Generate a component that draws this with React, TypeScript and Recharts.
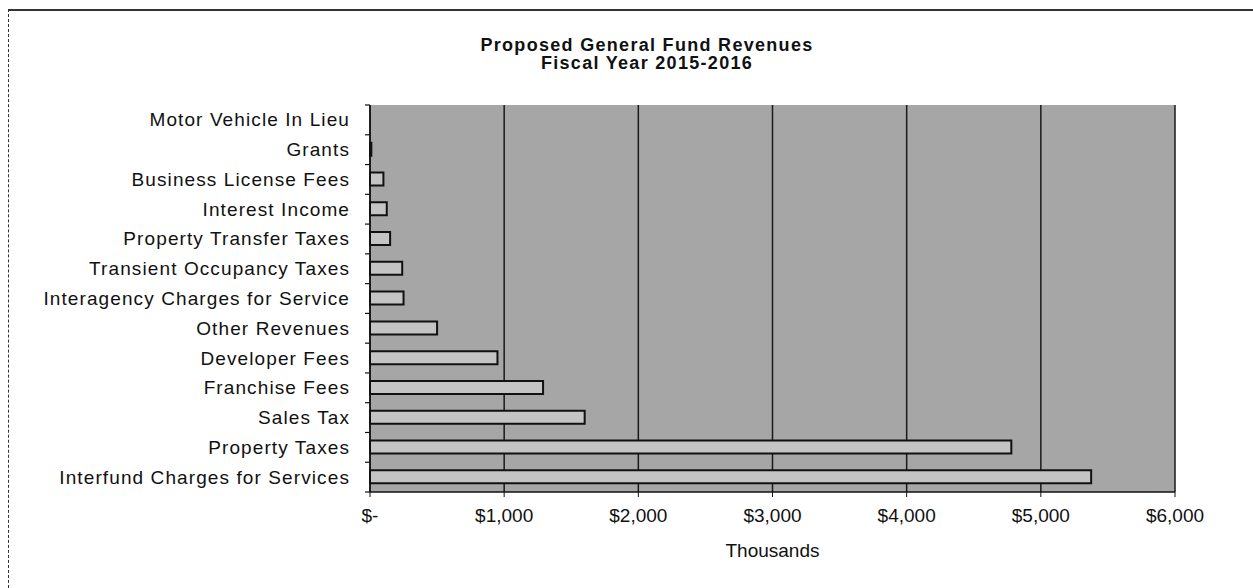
import React from 'react';
import { BarChart, Bar, XAxis, YAxis, CartesianGrid } from 'recharts';

const categories: string[] = [
  'Motor Vehicle In Lieu',
  'Grants',
  'Business License Fees',
  'Interest Income',
  'Property Transfer Taxes',
  'Transient Occupancy Taxes',
  'Interagency Charges for Service',
  'Other Revenues',
  'Developer Fees',
  'Franchise Fees',
  'Sales Tax',
  'Property Taxes',
  'Interfund Charges for Services',
];

const revenues: number[] = [0, 10, 100, 125, 150, 240, 250, 500, 950, 1290, 1600, 4780, 5375];

const xTicks: number[] = [0, 1000, 2000, 3000, 4000, 5000, 6000];

const titleLines: string[] = ['Proposed General Fund Revenues', 'Fiscal Year 2015-2016'];
const xAxisTitle = 'Thousands';

const data = categories.map((name, i) => ({ name, value: revenues[i] }));

const FONT = '"Liberation Sans", Arial, sans-serif';

const fmt = (v: number) => (v === 0 ? '$-' : '$' + v.toLocaleString('en-US'));

const HALF_BAND = 14.9;

const CategoryTick = (props: any) => {
  const { x, y, payload, index } = props;
  const axisX = x + 20;
  return (
    <g>
      <text
        x={x}
        y={y}
        textAnchor="end"
        dominantBaseline="central"
        fill="#111"
        fontSize={19}
        fontFamily={FONT}
        letterSpacing={1.1}
      >
        {payload.value}
      </text>
      {index === 0 && (
        <line x1={axisX - 5} x2={axisX} y1={y - HALF_BAND} y2={y - HALF_BAND} stroke="#111" strokeWidth={1.2} />
      )}
      <line x1={axisX - 5} x2={axisX} y1={y + HALF_BAND} y2={y + HALF_BAND} stroke="#111" strokeWidth={1.2} />
    </g>
  );
};

export default function App() {
  return (
    <div style={{ position: 'absolute', left: 0, top: 0, width: 1253, height: 588, background: '#fff', fontFamily: FONT }}>
      <div
        style={{
          position: 'absolute',
          left: 8,
          top: 9,
          width: 1245,
          height: 579,
          borderTop: '2px solid #333',
          borderLeft: '1.5px dashed #333',
          boxSizing: 'border-box',
        }}
      />
      {titleLines.map((t, i) => (
        <div
          key={i}
          style={{
            position: 'absolute',
            left: 447,
            width: 400,
            top: 35 + i * 18,
            textAlign: 'center',
            fontWeight: 'bold',
            fontSize: 18,
            letterSpacing: 1.3,
            lineHeight: '20px',
            color: '#111',
          }}
        >
          {t}
        </div>
      ))}
      <div style={{ position: 'absolute', left: 0, top: 0 }}>
        <BarChart
          width={1253}
          height={588}
          data={data}
          layout="vertical"
          margin={{ top: 105, right: 78, bottom: 56, left: 0 }}
          barSize={13}
        >
          <CartesianGrid
            horizontal={false}
            vertical={true}
            stroke="#1a1a1a"
            strokeWidth={1.5}
            fill="#a6a6a6"
            fillOpacity={1}
          />
          <XAxis
            type="number"
            domain={[0, 6000]}
            ticks={xTicks}
            tickFormatter={fmt}
            interval={0}
            height={40}
            tickSize={5}
            tickMargin={12}
            axisLine={{ stroke: '#111', strokeWidth: 1.5 }}
            tickLine={{ stroke: '#111' }}
            tick={{ fill: '#111', fontSize: 19, fontFamily: FONT }}
            label={{ value: xAxisTitle, position: 'bottom', offset: 12, fill: '#111', fontSize: 19, fontFamily: FONT }}
          />
          <YAxis
            type="category"
            dataKey="name"
            width={370}
            interval={0}
            tickSize={6}
            tickMargin={14}
            tickLine={false}
            axisLine={{ stroke: '#111', strokeWidth: 1.5 }}
            tick={<CategoryTick />}
          />
          <Bar dataKey="value" fill="#c4c4c4" stroke="#111" strokeWidth={2} isAnimationActive={false} />
        </BarChart>
      </div>
    </div>
  );
}
